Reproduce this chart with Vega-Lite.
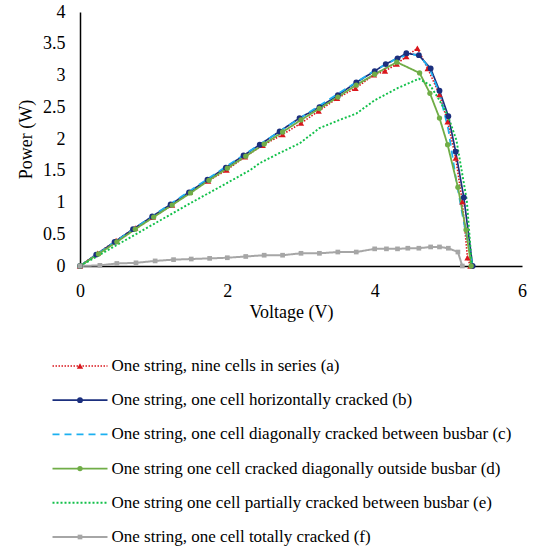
{
  "$schema": "https://vega.github.io/schema/vega-lite/v6.json",
  "padding": {"left": 17, "top": 3, "right": 5, "bottom": 2},
  "config": {"view": {"stroke": null}, "font": "Liberation Serif", "concat": {"spacing": 36}},
  "datasets": {
    "curves": [
      {"s":"a","V":0,"P":0},{"s":"a","V":0.24,"P":0.2},{"s":"a","V":0.49,"P":0.4},{"s":"a","V":0.75,"P":0.6},{"s":"a","V":0.99,"P":0.77},{"s":"a","V":1.25,"P":0.96},{"s":"a","V":1.49,"P":1.16},{"s":"a","V":1.74,"P":1.34},{"s":"a","V":1.99,"P":1.51},{"s":"a","V":2.24,"P":1.72},{"s":"a","V":2.48,"P":1.9},{"s":"a","V":2.75,"P":2.07},{"s":"a","V":3.0,"P":2.25},{"s":"a","V":3.24,"P":2.44},{"s":"a","V":3.49,"P":2.64},{"s":"a","V":3.74,"P":2.8},{"s":"a","V":3.99,"P":3.01},{"s":"a","V":4.14,"P":3.07},{"s":"a","V":4.3,"P":3.18},{"s":"a","V":4.43,"P":3.3},{"s":"a","V":4.58,"P":3.43},{"s":"a","V":4.72,"P":3.11},{"s":"a","V":4.88,"P":2.7},{"s":"a","V":4.99,"P":2.27},{"s":"a","V":5.1,"P":1.7},{"s":"a","V":5.19,"P":1.01},{"s":"a","V":5.26,"P":0.13},{"s":"a","V":5.3,"P":0},
      {"s":"b","V":0,"P":0},{"s":"b","V":0.22,"P":0.18},{"s":"b","V":0.47,"P":0.38},{"s":"b","V":0.72,"P":0.58},{"s":"b","V":0.98,"P":0.78},{"s":"b","V":1.23,"P":0.97},{"s":"b","V":1.48,"P":1.16},{"s":"b","V":1.73,"P":1.36},{"s":"b","V":1.98,"P":1.55},{"s":"b","V":2.22,"P":1.74},{"s":"b","V":2.44,"P":1.91},{"s":"b","V":2.71,"P":2.12},{"s":"b","V":2.98,"P":2.33},{"s":"b","V":3.25,"P":2.5},{"s":"b","V":3.5,"P":2.69},{"s":"b","V":3.75,"P":2.89},{"s":"b","V":4.0,"P":3.07},{"s":"b","V":4.15,"P":3.18},{"s":"b","V":4.31,"P":3.27},{"s":"b","V":4.43,"P":3.35},{"s":"b","V":4.6,"P":3.32},{"s":"b","V":4.76,"P":3.11},{"s":"b","V":4.88,"P":2.76},{"s":"b","V":5.0,"P":2.36},{"s":"b","V":5.1,"P":1.8},{"s":"b","V":5.21,"P":1.08},{"s":"b","V":5.33,"P":0},
      {"s":"c","V":0,"P":0},{"s":"c","V":0.5,"P":0.4},{"s":"c","V":1.0,"P":0.8},{"s":"c","V":1.5,"P":1.19},{"s":"c","V":2.0,"P":1.58},{"s":"c","V":2.5,"P":1.96},{"s":"c","V":3.0,"P":2.34},{"s":"c","V":3.5,"P":2.71},{"s":"c","V":4.0,"P":3.08},{"s":"c","V":4.3,"P":3.27},{"s":"c","V":4.5,"P":3.34},{"s":"c","V":4.62,"P":3.3},{"s":"c","V":4.75,"P":3.1},{"s":"c","V":4.88,"P":2.72},{"s":"c","V":5.0,"P":2.15},{"s":"c","V":5.1,"P":1.4},{"s":"c","V":5.2,"P":0.75},{"s":"c","V":5.33,"P":0},
      {"s":"d","V":0,"P":0},{"s":"d","V":0.25,"P":0.19},{"s":"d","V":0.5,"P":0.38},{"s":"d","V":0.75,"P":0.58},{"s":"d","V":1.0,"P":0.77},{"s":"d","V":1.25,"P":0.96},{"s":"d","V":1.5,"P":1.15},{"s":"d","V":1.75,"P":1.35},{"s":"d","V":2.0,"P":1.54},{"s":"d","V":2.25,"P":1.73},{"s":"d","V":2.5,"P":1.92},{"s":"d","V":2.75,"P":2.11},{"s":"d","V":3.0,"P":2.3},{"s":"d","V":3.25,"P":2.48},{"s":"d","V":3.5,"P":2.66},{"s":"d","V":3.75,"P":2.85},{"s":"d","V":4.0,"P":3.02},{"s":"d","V":4.3,"P":3.21},{"s":"d","V":4.61,"P":3.04},{"s":"d","V":4.75,"P":2.72},{"s":"d","V":4.88,"P":2.33},{"s":"d","V":4.99,"P":1.91},{"s":"d","V":5.13,"P":1.24},{"s":"d","V":5.24,"P":0.57},{"s":"d","V":5.31,"P":0},
      {"s":"e","V":0,"P":0},{"s":"e","V":0.5,"P":0.33},{"s":"e","V":1.0,"P":0.66},{"s":"e","V":1.5,"P":0.99},{"s":"e","V":2.0,"P":1.31},{"s":"e","V":2.31,"P":1.51},{"s":"e","V":2.44,"P":1.62},{"s":"e","V":2.71,"P":1.78},{"s":"e","V":2.98,"P":1.93},{"s":"e","V":3.25,"P":2.17},{"s":"e","V":3.5,"P":2.29},{"s":"e","V":3.75,"P":2.4},{"s":"e","V":4.0,"P":2.61},{"s":"e","V":4.31,"P":2.8},{"s":"e","V":4.6,"P":2.95},{"s":"e","V":4.75,"P":2.85},{"s":"e","V":4.88,"P":2.61},{"s":"e","V":5.0,"P":2.35},{"s":"e","V":5.11,"P":1.98},{"s":"e","V":5.25,"P":1.04},{"s":"e","V":5.32,"P":0},
      {"s":"f","V":0,"P":0},{"s":"f","V":0.27,"P":0.01},{"s":"f","V":0.5,"P":0.04},{"s":"f","V":0.76,"P":0.05},{"s":"f","V":1.02,"P":0.08},{"s":"f","V":1.27,"P":0.1},{"s":"f","V":1.51,"P":0.11},{"s":"f","V":1.76,"P":0.12},{"s":"f","V":2.0,"P":0.13},{"s":"f","V":2.25,"P":0.15},{"s":"f","V":2.5,"P":0.17},{"s":"f","V":2.75,"P":0.17},{"s":"f","V":3.0,"P":0.2},{"s":"f","V":3.25,"P":0.2},{"s":"f","V":3.5,"P":0.22},{"s":"f","V":3.75,"P":0.22},{"s":"f","V":4.0,"P":0.27},{"s":"f","V":4.16,"P":0.27},{"s":"f","V":4.31,"P":0.27},{"s":"f","V":4.45,"P":0.28},{"s":"f","V":4.6,"P":0.28},{"s":"f","V":4.76,"P":0.3},{"s":"f","V":4.88,"P":0.3},{"s":"f","V":5.0,"P":0.28},{"s":"f","V":5.13,"P":0.22},{"s":"f","V":5.19,"P":0}
    ],
    "legend": [
      {"s":"a","label":"One string, nine cells in series (a)"},
      {"s":"b","label":"One string, one cell horizontally cracked (b)"},
      {"s":"c","label":"One string, one cell diagonally cracked between busbar (c)"},
      {"s":"d","label":"One string one cell cracked diagonally outside busbar (d)"},
      {"s":"e","label":"One string one cell partially cracked between busbar (e)"},
      {"s":"f","label":"One string, one cell totally cracked (f)"}
    ]
  },
  "resolve": {"scale": {"x": "independent", "y": "independent"}},
  "vconcat": [
    {
      "width": 442,
      "height": 254,
      "data": {"name": "curves"},
      "encoding": {
        "x": {"field": "V", "type": "quantitative", "scale": {"domain": [0, 6], "nice": false},
          "axis": {"values": [0, 2, 4, 6], "format": "~g", "ticks": false, "grid": false, "domainColor": "#000000", "domainWidth": 1.5, "labelFontSize": 18, "labelColor": "#000000", "labelPadding": 16, "labelOverlap": false, "labelFlush": false, "title": "Voltage (V)", "titleFontSize": 18, "titleFontWeight": "normal", "titleColor": "#000000", "titlePadding": 3, "titleX": 211}},
        "y": {"field": "P", "type": "quantitative", "scale": {"domain": [0, 4], "nice": false},
          "axis": {"values": [0, 0.5, 1, 1.5, 2, 2.5, 3, 3.5, 4], "format": "~g", "ticks": false, "grid": false, "domainColor": "#000000", "domainWidth": 1.5, "labelFontSize": 18, "labelColor": "#000000", "labelPadding": 15, "labelOverlap": false, "labelFlush": false, "title": "Power (W)", "titleFontSize": 18, "titleFontWeight": "normal", "titleColor": "#000000", "titlePadding": 7}},
        "color": {"field": "s", "type": "nominal", "scale": {"domain": ["a","b","c","d","e","f"], "range": ["#D9161C","#1B2F7E","#1CB0F0","#70AD47","#12C04A","#A6A6A6"]}, "legend": null}
      },
      "layer": [
        {
          "mark": {"type": "line", "strokeCap": "butt"},
          "encoding": {
            "strokeDash": {"field": "s", "type": "nominal", "scale": {"domain": ["a","b","c","d","e","f"], "range": [[1.5,1.5],[1,0],[7,5],[1,0],[2,2],[1,0]]}, "legend": null},
            "strokeWidth": {"field": "s", "type": "nominal", "scale": {"domain": ["a","b","c","d","e","f"], "range": [1.6,2,2,2,2.2,2]}, "legend": null}
          }
        },
        {
          "transform": [{"filter": "datum.s != 'c' && datum.s != 'e'"}],
          "mark": {"type": "point", "filled": true, "opacity": 1},
          "encoding": {
            "shape": {"field": "s", "type": "nominal", "scale": {"domain": ["a","b","d","f"], "range": ["triangle-up","circle","circle","square"]}, "legend": null},
            "size": {"field": "s", "type": "nominal", "scale": {"domain": ["a","b","d","f"], "range": [40,22,3,25]}, "legend": null}
          }
        }
      ]
    },
    {
      "width": 440,
      "height": 171,
      "data": {"name": "legend"},
      "encoding": {
        "y": {"field": "s", "type": "ordinal", "scale": {"type": "point", "domain": ["a","b","c","d","e","f"], "padding": 0}, "axis": null},
        "color": {"field": "s", "type": "nominal", "legend": null}
      },
      "layer": [
        {
          "mark": {"type": "rule", "strokeCap": "butt"},
          "encoding": {
            "x": {"datum": -0.5, "type": "quantitative", "scale": {"domain": [0, 8], "nice": false}, "axis": null},
            "x2": {"datum": 0.5},
            "strokeDash": {"field": "s", "type": "nominal", "legend": null},
            "strokeWidth": {"field": "s", "type": "nominal", "legend": null}
          }
        },
        {
          "transform": [{"filter": "datum.s != 'c' && datum.s != 'e'"}],
          "mark": {"type": "point", "filled": true, "opacity": 1},
          "encoding": {
            "x": {"datum": 0, "type": "quantitative"},
            "shape": {"field": "s", "type": "nominal", "legend": null},
            "size": {"field": "s", "type": "nominal", "legend": null}
          }
        },
        {
          "mark": {"type": "text", "align": "left", "baseline": "middle", "dx": 4, "fontSize": 17, "color": "#000000"},
          "encoding": {
            "x": {"datum": 0.5, "type": "quantitative"},
            "text": {"field": "label", "type": "nominal"},
            "color": {"value": "#000000"}
          }
        }
      ]
    }
  ]
}
